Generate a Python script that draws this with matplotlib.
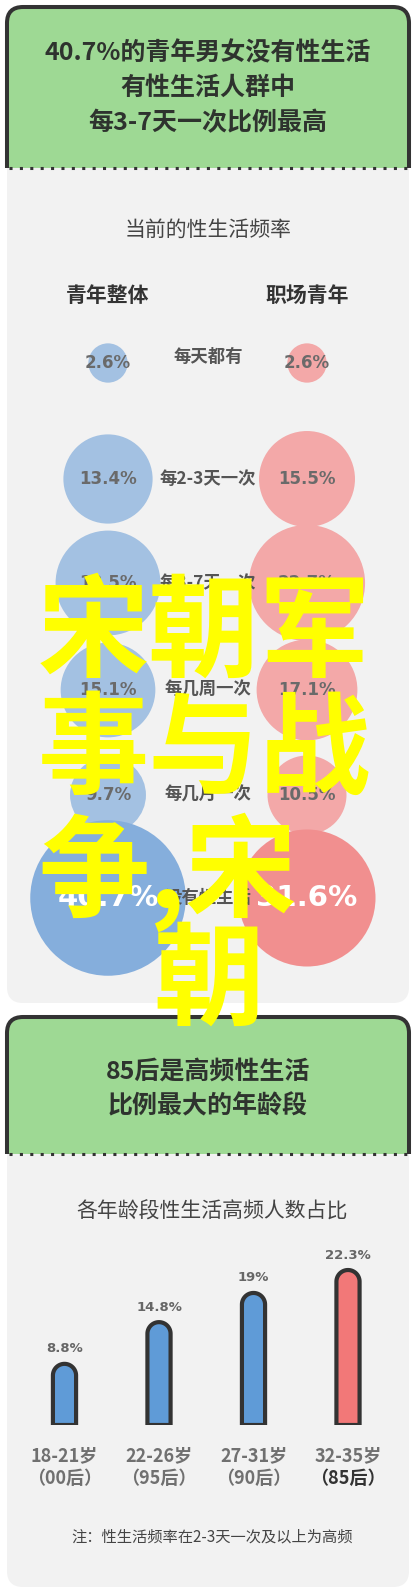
import numpy as np
import matplotlib.pyplot as plt
from matplotlib.patches import FancyBboxPatch, Rectangle, PathPatch
from matplotlib.path import Path

plt.rcParams['font.family'] = ['Noto Sans CJK SC', 'DejaVu Sans']

# ---------------- 数据 ----------------
freq_labels = ["每天都有", "每2-3天一次", "每3-7天一次", "每几周一次", "每几月一次", "没有性生活"]
youth_all = [2.6, 13.4, 18.5, 15.1, 9.7, 40.7]      # 青年整体
youth_work = [2.6, 15.5, 22.7, 17.1, 10.5, 31.6]    # 职场青年
group_names = ["青年整体", "职场青年"]

age_ranges = ["18-21岁", "22-26岁", "27-31岁", "32-35岁"]
age_gens = ["（00后）", "（95后）", "（90后）", "（85后）"]
high_freq_share = [8.8, 14.8, 19, 22.3]

title1 = ["40.7%的青年男女没有性生活", "有性生活人群中", "每3-7天一次比例最高"]
title2 = ["85后是高频性生活", "比例最大的年龄段"]
watermark = ["宋朝军", "事与战", "争,宋", "朝"]

# ---------------- 样式 ----------------
GREEN = "#9ed994"
GRAY = "#f2f2f2"
DARK = "#333333"
BLUE_L, BLUE_D = "#a3c1e2", "#85aedc"
PINK_L, PINK_D = "#f3a8a8", "#f18f8f"
BAR_BLUE, BAR_RED = "#5f9bd7", "#f27878"
DIGITS = ['DejaVu Sans']

W, H = 416, 1595
fig = plt.figure(figsize=(W / 100, H / 100), dpi=100)
fig.patch.set_facecolor("white")
ax = fig.add_axes([0, 0, 1, 1])
ax.set_xlim(0, W)
ax.set_ylim(H, 0)
ax.axis("off")


def panel(top, split, bottom, lines, first_y, step):
    """绿色标题框 + 灰色内容区"""
    body = FancyBboxPatch((7, split - 30), 402, bottom - split + 30,
                          boxstyle="round,pad=0,rounding_size=16",
                          fc=GRAY, ec="none", zorder=1)
    ax.add_patch(body)
    head = FancyBboxPatch((7, top), 402, split - top + 40,
                          boxstyle="round,pad=0,rounding_size=16",
                          fc=GREEN, ec=DARK, lw=2.9, zorder=2)
    ax.add_patch(head)
    head.set_clip_path(Rectangle((0, 0), W, split, transform=ax.transData))
    ax.plot([9, 407], [split, split], color=DARK, lw=2.2,
            ls=(0, (1, 2.4)), zorder=3)
    for i, t in enumerate(lines):
        ax.text(W / 2, first_y + i * step, t, ha="center", va="center",
                fontsize=18, fontweight="bold", color="#2e332e", zorder=4)


# ---------------- 第一部分：气泡 ----------------
panel(7, 168, 1003, title1, 53, 35)
ax.text(208, 230, "当前的性生活频率", ha="center", va="center",
        fontsize=15, color="#444444", zorder=4)

col_x = [108, 307]
row_y = [363, 479, 583, 690, 795, 898]
S_PER_PCT = 308.0  # 面积与百分比成正比

for gx, name, vals, light, dark in [(col_x[0], group_names[0], youth_all, BLUE_L, BLUE_D),
                                    (col_x[1], group_names[1], youth_work, PINK_L, PINK_D)]:
    ax.text(gx, 295, name, ha="center", va="center", fontsize=15,
            fontweight="bold", color="#333333", zorder=4)
    colors = [light] * (len(vals) - 1) + [dark]
    ax.scatter([gx] * len(vals), row_y, s=[S_PER_PCT * v for v in vals],
               c=colors, edgecolors="none", zorder=3)
    for i, v in enumerate(vals):
        last = i == len(vals) - 1
        ax.text(gx, row_y[i], f"{v}%", ha="center", va="center",
                fontsize=21 if last else 12, fontweight="bold",
                color="white" if last else "#6a6a6a", family=DIGITS, zorder=4)

for i, lbl in enumerate(freq_labels):
    ax.text(208, row_y[i] - (6 if i == 0 else 0), lbl, ha="center", va="center",
            fontsize=12.5, fontweight="bold", color="#555555", zorder=4)

# ---------------- 第二部分：柱状图 ----------------
panel(1017, 1154, 1587, title2, 1072, 34)
ax.text(212, 1212, "各年龄段性生活高频人数占比", ha="center", va="center",
        fontsize=15, color="#444444", zorder=4)
ax.text(212, 1537, "注：性生活频率在2-3天一次及以上为高频", ha="center", va="center",
        fontsize=11, color="#444444", zorder=4)

base = 1425
px_per_pct = 6.95
px_per_bar = 94.5
bax_h = 220
bax = fig.add_axes([0, (H - base) / H, 1, bax_h / H])
bax.set_xlim(-64.5 / px_per_bar, (W - 64.5) / px_per_bar)
bax.set_ylim(0, bax_h / px_per_pct)
bax.axis("off")

bw = 0.245
ry = (bw * px_per_bar / 2) / px_per_pct
t = np.linspace(0, np.pi, 40)
for i, v in enumerate(high_freq_share):
    x0, x1 = i - bw / 2, i + bw / 2
    arc = np.column_stack([i + bw / 2 * np.cos(t), (v - ry) + ry * np.sin(t)])
    verts = np.vstack([[x1, 0], arc, [x0, 0], [x1, 0]])
    codes = [Path.MOVETO] + [Path.LINETO] * (len(verts) - 2) + [Path.CLOSEPOLY]
    fc = BAR_RED if i == len(high_freq_share) - 1 else BAR_BLUE
    bax.add_patch(PathPatch(Path(verts, codes), fc=fc, ec=DARK, lw=3,
                            joinstyle="round", zorder=3))
    bax.annotate(f"{v}%", xy=(i, v), xytext=(0, 15), textcoords="offset pixels",
                 ha="center", va="center", fontsize=9.5, fontweight="bold",
                 color="#666666", family=DIGITS, annotation_clip=False)
    bax.annotate(age_ranges[i], xy=(i, 0), xytext=(0, -31), textcoords="offset pixels",
                 ha="center", va="center", fontsize=13, fontweight="bold",
                 color="#707070", annotation_clip=False)
    last = i == len(high_freq_share) - 1
    bax.annotate(age_gens[i], xy=(i, 0), xytext=(0, -53), textcoords="offset pixels",
                 ha="center", va="center", fontsize=13, fontweight="bold",
                 color="#333333" if last else "#707070", annotation_clip=False)

# ---------------- 水印 ----------------
wm_x = [38, 38, 38, 153]
wm_y = [635, 753, 872, 983]
for tx, ty, s in zip(wm_x, wm_y, watermark):
    fig.text(tx / W, 1 - ty / H, s, ha="left", va="center", fontsize=80,
             fontweight="bold", color="#ffff00", zorder=10)

fig.savefig("out.png", dpi=100, facecolor="white")
